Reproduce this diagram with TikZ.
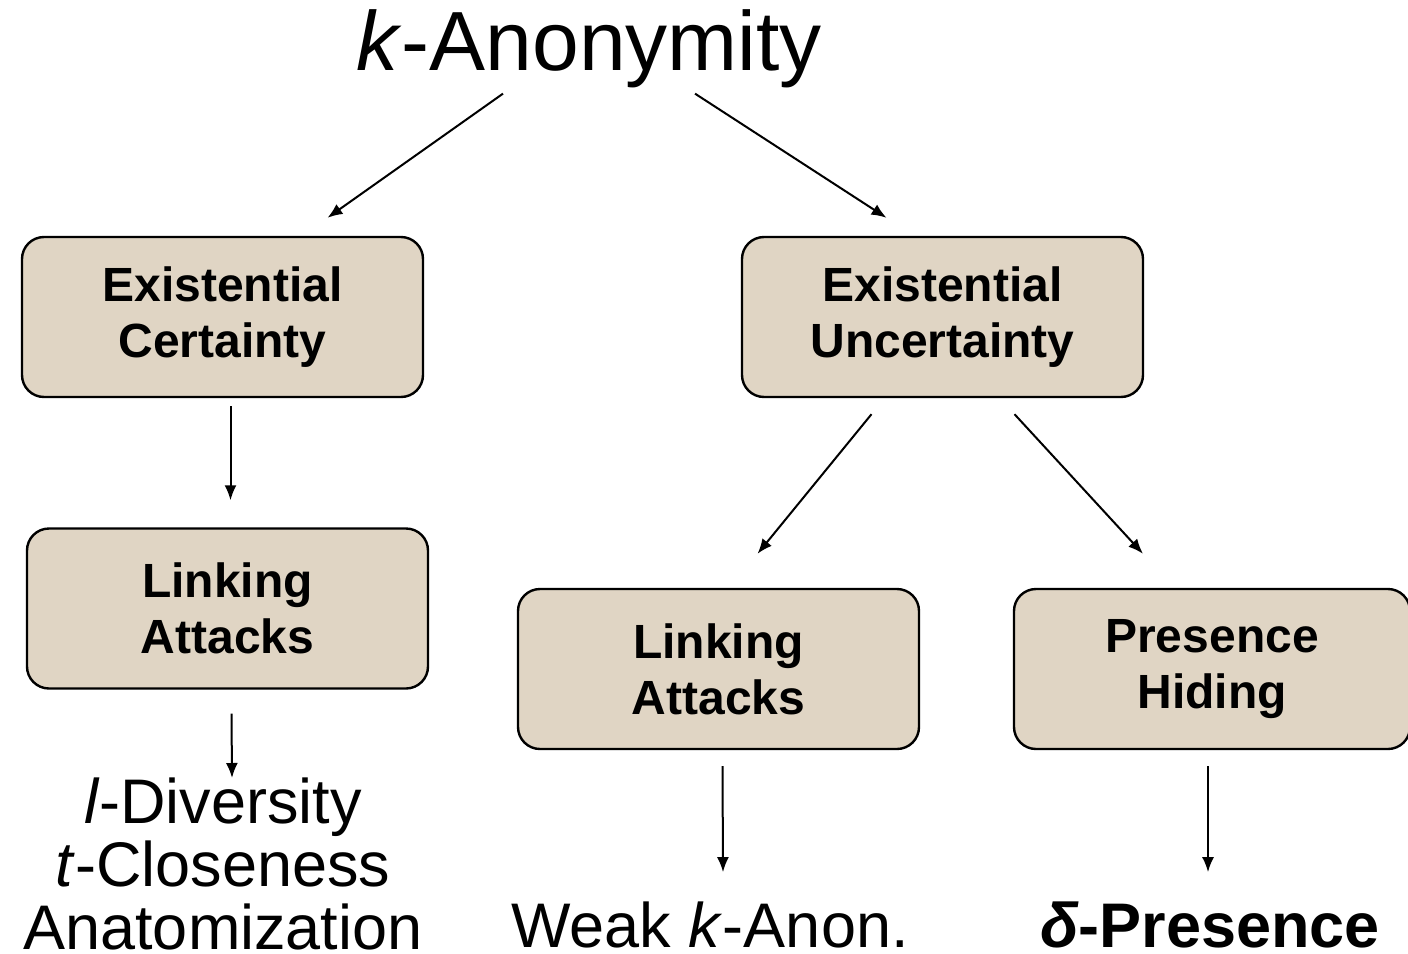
\documentclass[tikz,border=0pt]{standalone}
\usepackage{fontspec}
\setmainfont{Liberation Sans}
\usepackage{tikz}
\usetikzlibrary{arrows.meta}
\definecolor{boxfill}{RGB}{224,213,196}
\tikzset{
  topic/.style={draw, line width=2.4pt, fill=boxfill, rounded corners=22pt,
    minimum width=401pt, minimum height=160pt, inner sep=0pt, align=center,
    font=\fontsize{48}{56}\selectfont\bfseries},
  result/.style={inner sep=0pt, align=center, font=\fontsize{63}{63}\selectfont},
  arr/.style={-{Latex[length=15pt,width=12pt]}, line width=2pt}
}

\begin{document}
\begin{tikzpicture}[x=1pt,y=-1pt]
      \useasboundingbox (0,0) rectangle (1408,953);
      % top
      \node[inner sep=0pt, anchor=base, font=\fontsize{84}{84}\selectfont] (kanon) at (589,70) {\textit{k}-Anonymity};
      % boxes
      \node[topic] (excert) at (222.5,317) {Existential\\Certainty};
      \node[topic] (exunc) at (942.5,317) {Existential\\Uncertainty};
      \node[topic] (linkl) at (227.5,608.5) {Linking\\Attacks};
      \node[topic] (linkm) at (718.5,669) {Linking\\Attacks};
      \node[topic, minimum width=396pt] (hiding) at (1212,669) {Presence\\Hiding};
      % results
      \node[result, anchor=north] (ldiv) at (223,778) {\textit{l}-Diversity\\\textit{t}-Closeness\\Anatomization};
      \node[result, anchor=base] (weak) at (710,947) {Weak \textit{k}-Anon.};
      \node[result, anchor=base, font=\fontsize{63}{63}\selectfont\bfseries] (delta) at (1210,947) {\textit{δ}-Presence};
      % arrows
      \draw[arr] ([xshift=-86pt,yshift=-6pt]kanon.south) -- ([xshift=105pt,yshift=18pt]excert.north);
      \draw[arr] ([xshift=106pt,yshift=-6pt]kanon.south) -- ([xshift=-56pt,yshift=18pt]exunc.north);
      \draw[arr] ([xshift=8pt,yshift=-8pt]excert.south) -- ([xshift=3pt,yshift=27pt]linkl.north);
      \draw[arr] ([xshift=-71pt,yshift=-16pt]exunc.south) -- ([xshift=39pt,yshift=34pt]linkm.north);
      \draw[arr] ([xshift=72pt,yshift=-16pt]exunc.south) -- ([xshift=-69pt,yshift=34pt]hiding.north);
      \draw[arr] ([xshift=4pt,yshift=-24pt]linkl.south) -- ([xshift=9pt]ldiv.north);
      \draw[arr] ([xshift=4pt,yshift=-16pt]linkm.south) -- ([xshift=13pt,yshift=29pt]weak.north);
      \draw[arr] ([xshift=-4pt,yshift=-16pt]hiding.south) -- ([xshift=-2pt,yshift=29pt]delta.north);
\end{tikzpicture}
\end{document}
